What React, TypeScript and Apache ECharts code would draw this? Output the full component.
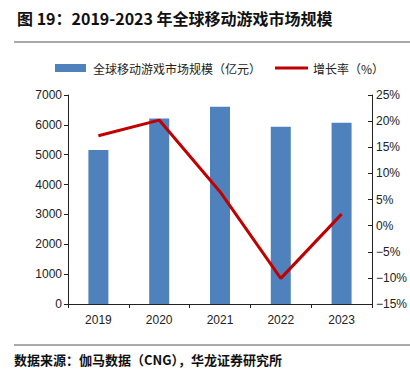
import React, { useEffect, useRef } from "react";
import * as echarts from "echarts";

const categories = ["2019", "2020", "2021", "2022", "2023"];
const marketSize = [5160, 6210, 6610, 5940, 6070];
const growthRate = [17.2, 20.2, 6.5, -10.1, 2.2];
const barName = "全球移动游戏市场规模（亿元）";
const lineName = "增长率（%）";
const titleText = "图 19：2019-2023 年全球移动游戏市场规模";
const sourceText = "数据来源：伽马数据（CNG），华龙证券研究所";

export default function App() {
  const ref = useRef<HTMLDivElement>(null);
  useEffect(() => {
    if (!ref.current) return;
    const chart = echarts.init(ref.current, undefined, { renderer: "svg" });
    const cjk = "'Noto Sans CJK SC', sans-serif";
    const num = "'Liberation Sans', Arial, sans-serif";
    chart.setOption({
      animation: false,
      backgroundColor: "#fff",
      graphic: [
        {
          type: "text",
          left: 17,
          top: 10,
          style: { text: titleText, font: `bold 16px ${cjk}`, fill: "#111" },
        },
        {
          type: "line",
          shape: { x1: 14, y1: 42, x2: 410, y2: 42 },
          style: { stroke: "#555", lineWidth: 1 },
        },
        {
          type: "rect",
          shape: { x: 55, y: 64, width: 31, height: 8 },
          style: { fill: "#4F81BD" },
        },
        {
          type: "text",
          x: 93,
          y: 68,
          style: { text: barName, font: `12px ${cjk}`, fill: "#222", verticalAlign: "middle" },
        },
        {
          type: "line",
          shape: { x1: 275, y1: 68, x2: 308, y2: 68 },
          style: { stroke: "#C00000", lineWidth: 3 },
        },
        {
          type: "text",
          x: 313,
          y: 68,
          style: { text: lineName, font: `12px ${cjk}`, fill: "#222", verticalAlign: "middle" },
        },
        {
          type: "line",
          shape: { x1: 14, y1: 345, x2: 410, y2: 345 },
          style: { stroke: "#555", lineWidth: 1 },
        },
        {
          type: "text",
          left: 14,
          top: 353,
          style: { text: sourceText, font: `bold 13px ${cjk}`, fill: "#111" },
        },
      ],
      grid: { left: 68, right: 37, top: 95, bottom: 78 },
      xAxis: {
        type: "category",
        data: categories,
        axisLine: { lineStyle: { color: "#222", width: 1 } },
        axisTick: { show: true, length: 4, lineStyle: { color: "#222" } },
        axisLabel: { fontFamily: num, fontSize: 12, color: "#222", margin: 10 },
      },
      yAxis: [
        {
          type: "value",
          min: 0,
          max: 7000,
          interval: 1000,
          splitLine: { show: false },
          axisLine: { show: true, lineStyle: { color: "#222" } },
          axisTick: { show: true, length: 4, lineStyle: { color: "#222" } },
          axisLabel: {
            fontFamily: num,
            fontSize: 12,
            color: "#222",
            margin: 6,
            formatter: (v: number) => String(v),
          },
        },
        {
          type: "value",
          min: -15,
          max: 25,
          interval: 5,
          splitLine: { show: false },
          axisLine: { show: true, lineStyle: { color: "#222" } },
          axisTick: { show: true, inside: true, length: 4, lineStyle: { color: "#222" } },
          axisLabel: {
            fontFamily: num,
            fontSize: 12,
            color: "#222",
            margin: 4,
            formatter: (v: number) => (v < 0 ? "\u2212" + Math.abs(v) : v) + "%",
          },
        },
      ],
      series: [
        {
          name: barName,
          type: "bar",
          data: marketSize,
          barWidth: 20,
          itemStyle: { color: "#4F81BD" },
        },
        {
          name: lineName,
          type: "line",
          yAxisIndex: 1,
          data: growthRate,
          symbol: "none",
          lineStyle: { color: "#C00000", width: 3 },
          itemStyle: { color: "#C00000" },
        },
      ],
    });
    return () => chart.dispose();
  }, []);
  return <div ref={ref} style={{ width: 410, height: 382, position: "absolute", left: 0, top: 0 }} />;
}
